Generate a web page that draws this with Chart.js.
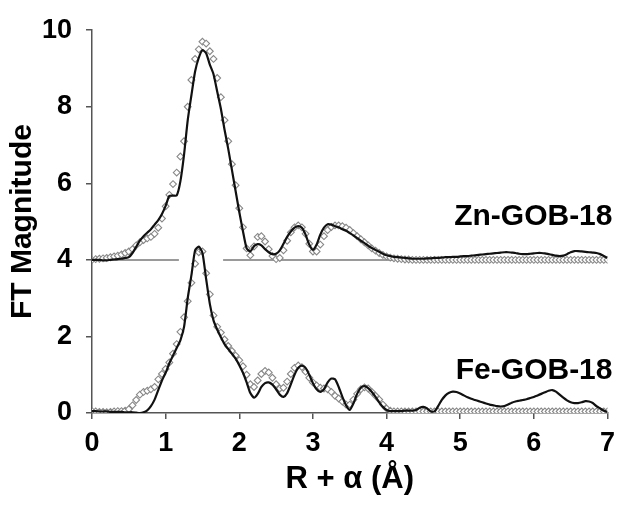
<!DOCTYPE html>
<html><head><meta charset="utf-8">
<script src="https://cdn.jsdelivr.net/npm/chart.js@4/dist/chart.umd.min.js"></script>
<style>html,body{margin:0;padding:0;background:#fff}#wrap{width:623px;height:506px}</style>
</head><body><div id="wrap"><canvas id="c" width="623" height="506"></canvas></div>
<script>
// R + alpha grid (Å)
const rValues = [
0.00,0.05,0.10,0.15,0.20,0.25,0.30,0.35,0.40,0.45,
0.50,0.55,0.60,0.65,0.70,0.75,0.80,0.85,0.90,0.95,
1.00,1.05,1.10,1.15,1.20,1.25,1.30,1.35,1.40,1.45,
1.50,1.55,1.60,1.65,1.70,1.75,1.80,1.85,1.90,1.95,
2.00,2.05,2.10,2.15,2.20,2.25,2.30,2.35,2.40,2.45,
2.50,2.55,2.60,2.65,2.70,2.75,2.80,2.85,2.90,2.95,
3.00,3.05,3.10,3.15,3.20,3.25,3.30,3.35,3.40,3.45,
3.50,3.55,3.60,3.65,3.70,3.75,3.80,3.85,3.90,3.95,
4.00,4.05,4.10,4.15,4.20,4.25,4.30,4.35,4.40,4.45,
4.50,4.55,4.60,4.65,4.70,4.75,4.80,4.85,4.90,4.95,
5.00,5.05,5.10,5.15,5.20,5.25,5.30,5.35,5.40,5.45,
5.50,5.55,5.60,5.65,5.70,5.75,5.80,5.85,5.90,5.95,
6.00,6.05,6.10,6.15,6.20,6.25,6.30,6.35,6.40,6.45,
6.50,6.55,6.60,6.65,6.70,6.75,6.80,6.85,6.90,6.95,
7.00];

// Zn-GOB-18 experiment (offset by +4 as plotted)
const znExp = [
4.00,4.00,4.00,3.99,3.99,4.00,4.01,4.02,4.03,4.05,
4.07,4.18,4.34,4.50,4.62,4.71,4.80,4.92,5.04,5.20,
5.41,5.67,5.68,5.68,6.05,6.75,7.65,8.30,8.92,9.28,
9.48,9.40,9.10,8.85,8.40,7.95,7.40,6.90,6.35,5.80,
5.25,4.75,4.30,4.22,4.36,4.41,4.38,4.28,4.20,4.15,
4.16,4.25,4.42,4.60,4.74,4.84,4.88,4.84,4.66,4.40,
4.26,4.40,4.66,4.84,4.93,4.92,4.88,4.85,4.80,4.76,
4.70,4.64,4.57,4.50,4.44,4.37,4.31,4.26,4.21,4.16,
4.12,4.10,4.08,4.07,4.06,4.05,4.04,4.03,4.03,4.03,
4.03,4.04,4.04,4.05,4.05,4.06,4.07,4.07,4.08,4.08,
4.09,4.10,4.10,4.11,4.12,4.13,4.14,4.15,4.16,4.17,
4.18,4.19,4.20,4.20,4.19,4.18,4.16,4.15,4.15,4.16,
4.17,4.18,4.18,4.17,4.15,4.13,4.11,4.10,4.11,4.15,
4.20,4.23,4.23,4.22,4.21,4.20,4.19,4.18,4.15,4.10,
4.05];

// Zn-GOB-18 fit
const znFit = [
4.00,4.02,4.03,4.04,4.05,4.07,4.09,4.11,4.14,4.18,
4.22,4.28,4.38,4.46,4.52,4.56,4.60,4.68,4.84,5.08,
5.40,5.70,5.98,6.28,6.70,7.10,8.00,8.70,9.25,9.50,
9.70,9.65,9.45,9.25,8.75,8.25,7.65,7.10,6.50,5.95,
5.35,4.85,4.30,4.12,4.35,4.60,4.62,4.48,4.28,4.10,
4.02,4.05,4.25,4.50,4.72,4.85,4.90,4.85,4.68,4.42,
4.22,4.22,4.40,4.62,4.78,4.86,4.90,4.90,4.88,4.84,
4.78,4.70,4.62,4.54,4.46,4.38,4.30,4.24,4.18,4.13,
4.09,4.06,4.04,4.03,4.02,4.01,4.01,4.00,4.00,4.00,
4.00,4.00,4.00,4.00,4.00,4.00,4.00,4.00,4.00,4.00,
4.00,4.00,4.00,4.00,4.00,4.00,4.00,4.00,4.00,4.00,
4.00,4.00,4.00,4.00,4.00,4.00,4.00,4.00,4.00,4.00,
4.00,4.00,4.00,4.00,4.00,4.00,4.00,4.00,4.00,4.00,
4.00,4.00,4.00,4.00,4.00,4.00,4.00,4.00,4.00,4.00,
4.00];

// Fe-GOB-18 experiment
const feExp = [
0.05,0.05,0.04,0.04,0.04,0.03,0.03,0.03,0.03,0.02,
0.02,0.02,0.01,0.00,0.02,0.07,0.18,0.35,0.60,0.85,
1.05,1.30,1.50,1.70,1.90,2.25,3.00,3.60,4.25,4.35,
4.18,3.50,2.85,2.42,2.18,1.98,1.80,1.67,1.55,1.42,
1.25,1.05,0.80,0.52,0.40,0.50,0.68,0.78,0.80,0.74,
0.62,0.48,0.42,0.52,0.75,1.00,1.18,1.24,1.18,1.00,
0.78,0.62,0.55,0.62,0.80,0.90,0.88,0.68,0.42,0.20,
0.08,0.25,0.50,0.66,0.70,0.65,0.55,0.42,0.28,0.16,
0.08,0.05,0.05,0.05,0.05,0.06,0.06,0.06,0.08,0.14,
0.16,0.12,0.04,0.04,0.18,0.34,0.46,0.53,0.56,0.55,
0.51,0.46,0.41,0.37,0.34,0.31,0.28,0.25,0.22,0.20,
0.18,0.17,0.18,0.22,0.27,0.30,0.32,0.34,0.36,0.39,
0.42,0.46,0.50,0.54,0.58,0.60,0.56,0.48,0.40,0.33,
0.28,0.26,0.26,0.28,0.31,0.30,0.26,0.18,0.12,0.06,
0.03];

// Fe-GOB-18 fit
const feFit = [
0.05,0.04,0.03,0.03,0.02,0.03,0.04,0.05,0.05,0.06,
0.10,0.20,0.34,0.48,0.55,0.58,0.62,0.68,0.88,1.02,
1.15,1.32,1.55,1.80,2.12,2.50,2.92,3.40,3.90,4.20,
4.22,3.65,3.10,2.55,2.25,2.10,1.92,1.75,1.62,1.50,
1.38,1.22,1.00,0.75,0.68,0.85,1.02,1.10,1.06,0.92,
0.75,0.64,0.66,0.82,1.02,1.18,1.24,1.20,1.08,0.92,
0.80,0.72,0.66,0.64,0.62,0.55,0.45,0.38,0.30,0.22,
0.22,0.35,0.50,0.62,0.67,0.64,0.55,0.45,0.35,0.22,
0.12,0.06,0.04,0.04,0.04,0.04,0.04,0.04,0.04,0.04,
0.04,0.04,0.04,0.04,0.04,0.04,0.04,0.04,0.04,0.04,
0.04,0.04,0.04,0.04,0.04,0.04,0.04,0.04,0.04,0.04,
0.04,0.04,0.04,0.04,0.04,0.04,0.04,0.04,0.04,0.04,
0.04,0.04,0.04,0.04,0.04,0.04,0.04,0.04,0.04,0.04,
0.04,0.04,0.04,0.04,0.04,0.04,0.04,0.04,0.04,0.04,
0.04];

// Zn baseline reference line (gap where Fe peak crosses)
const baseX = [0, 1.18, 1.48, 1.78, 7];
const baseY = [4, 4, null, 4, 4];

const sampleLabels = ['Zn-GOB-18', 'Fe-GOB-18'];
const xTickValues = [0,1,2,3,4,5,6,7];
const yTickValues = [0,2,4,6,8,10];

const pts = ys => rValues.map((x, i) => ({x: x, y: ys[i]}));
const basePts = baseX.map((x, i) => ({x: x, y: baseY[i]}));

const FONT = '"Liberation Sans", Arial, Helvetica, sans-serif';

const labelPlugin = {
  id: 'sampleLabels',
  afterDatasetsDraw(chart) {
    const {ctx, scales} = chart;
    const anchors = [4.9, 0.9];
    ctx.save();
    ctx.font = 'bold 30px ' + FONT;
    ctx.fillStyle = '#000';
    ctx.textAlign = 'right';
    ctx.textBaseline = 'alphabetic';
    sampleLabels.forEach((t, i) => {
      ctx.fillText(t, scales.x.getPixelForValue(7) + 5, scales.y.getPixelForValue(anchors[i]));
    });
    ctx.restore();
  }
};

const lineStyle = {borderColor: '#111', borderWidth: 2.2, pointRadius: 0, tension: 0.2, fill: false};
const markStyle = {showLine: false, pointStyle: 'rectRot', pointRadius: 3.4, pointBorderWidth: 1.1,
  pointBorderColor: '#888', pointBackgroundColor: '#fff', borderColor: '#888', backgroundColor: '#fff'};

new Chart(document.getElementById('c'), {
  type: 'line',
  data: {
    datasets: [
      Object.assign({label: 'Zn-GOB-18 experiment', data: pts(znExp)}, lineStyle),
      Object.assign({label: 'Fe-GOB-18 experiment', data: pts(feExp)}, lineStyle),
      Object.assign({label: 'Zn-GOB-18 fit', data: pts(znFit)}, markStyle),
      Object.assign({label: 'Fe-GOB-18 fit', data: pts(feFit)}, markStyle),
      {label: 'baseline', data: basePts, borderColor: '#9a9a9a', borderWidth: 2, pointRadius: 0, spanGaps: false, fill: false}
    ]
  },
  options: {
    responsive: false,
    animation: false,
    devicePixelRatio: 1,
    layout: {padding: {top: 25, right: 9, left: 0, bottom: 0}},
    plugins: {legend: {display: false}, tooltip: {enabled: false}},
    scales: {
      x: {
        type: 'linear', min: 0, max: 7,
        afterFit: s => { s.height = 93; },
        afterBuildTicks: s => { s.ticks = xTickValues.map(v => ({value: v})); },
        ticks: {color: '#000', font: {family: FONT, size: 27, weight: 'bold'}, padding: 8, maxRotation: 0},
        grid: {drawOnChartArea: false, drawTicks: true, tickLength: 6, color: '#555', lineWidth: 1.5},
        border: {display: true, color: '#555', width: 1.5},
        title: {display: true, text: 'R + α (Å)', color: '#000', font: {family: FONT, size: 31, weight: 'bold'}, padding: {top: 0, bottom: 8}}
      },
      y: {
        type: 'linear', min: 0, max: 10,
        afterFit: s => { s.width = 92; },
        afterBuildTicks: s => { s.ticks = yTickValues.map(v => ({value: v})); },
        ticks: {color: '#000', font: {family: FONT, size: 27, weight: 'bold'}, padding: 14},
        grid: {drawOnChartArea: false, drawTicks: true, tickLength: 6, color: '#555', lineWidth: 1.5},
        border: {display: true, color: '#555', width: 1.5},
        title: {display: true, text: 'FT Magnitude', color: '#000', font: {family: FONT, size: 30, weight: 'bold'}, padding: {top: 5, bottom: 0}}
      }
    }
  },
  plugins: [labelPlugin]
});
</script>
</body></html>
